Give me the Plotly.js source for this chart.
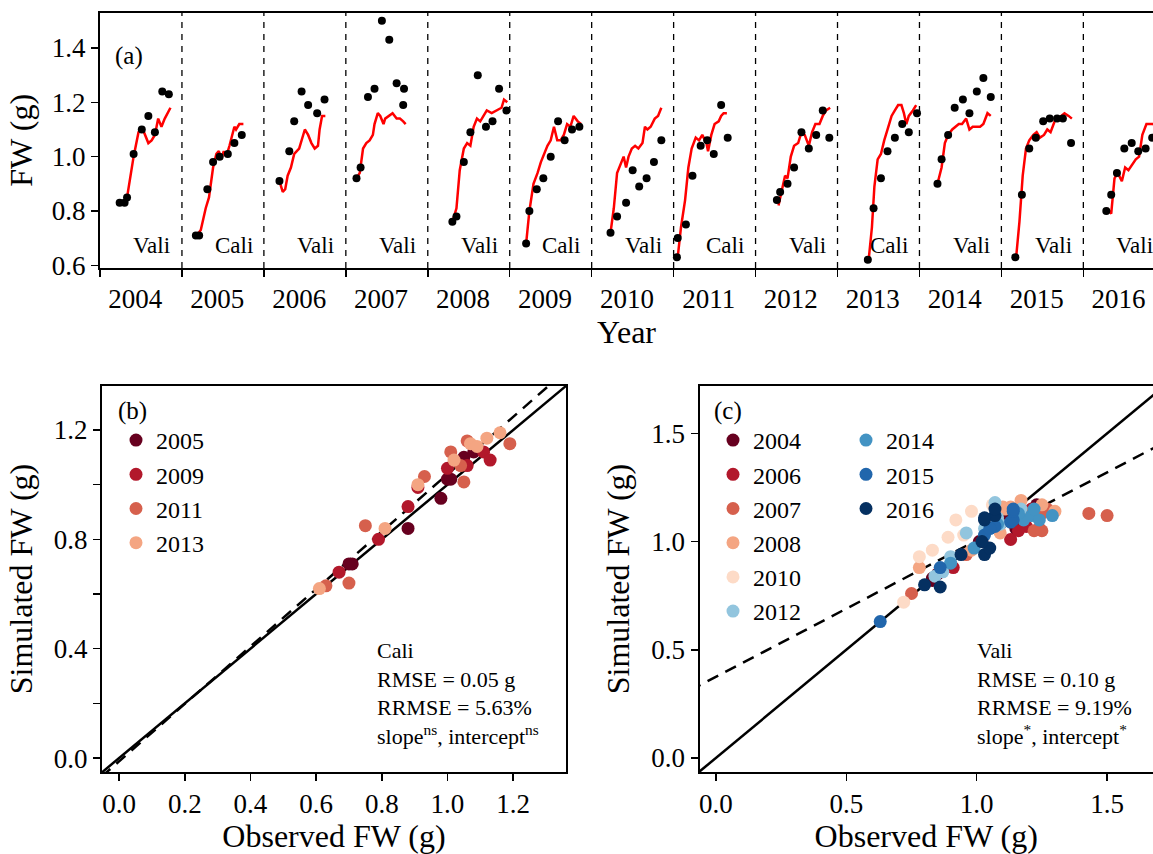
<!DOCTYPE html>
<html>
<head>
<meta charset="utf-8">
<script src="https://cdn.plot.ly/plotly-3.0.1.min.js"></script>
<style>html,body{margin:0;padding:0;background:#fff}#chart{width:1153px;height:854px}</style>
</head>
<body>
<div id="chart"></div>
<script>
'use strict';

/* ---------- Panel (a): seasons, observed dots and simulated lines ---------- */
var years = [2004, 2005, 2006, 2007, 2008, 2009, 2010, 2011, 2012, 2013, 2014, 2015, 2016];
var sets  = ['Vali', 'Cali', 'Vali', 'Vali', 'Vali', 'Cali', 'Vali', 'Cali', 'Vali', 'Cali', 'Vali', 'Vali', 'Vali'];

// observed: day of season (0-100) and FW
var obsDay = [
  [24, 30, 33, 41, 51, 59, 67, 76, 84],
  [17, 21, 31, 38, 46, 56, 64, 73],
  [19, 31, 37, 46, 54, 65, 74],
  [13, 18, 27, 35, 44, 53, 62, 71, 70],
  [30, 35, 44, 52, 61, 71, 79, 87, 96],
  [20, 24, 33, 41, 50, 59, 67, 76, 85],
  [23, 31, 42, 50, 58, 67, 76, 85],
  [4, 5, 15, 23, 33, 41, 49, 58, 66],
  [26, 30, 39, 47, 56, 65, 74, 82, 90],
  [37, 44, 53, 61, 70, 79, 87, 97],
  [22, 27, 35, 43, 53, 61, 70, 78, 87],
  [17, 25, 34, 42, 51, 59, 68, 75, 85],
  [28, 34, 41, 50, 59, 67, 76, 84, 96]
];
var obsFW = [
  [0.83, 0.83, 0.85, 1.01, 1.10, 1.15, 1.09, 1.24, 1.23],
  [0.71, 0.71, 0.88, 0.98, 1.00, 1.01, 1.05, 1.08],
  [0.91, 1.02, 1.13, 1.24, 1.19, 1.16, 1.21],
  [0.92, 0.96, 1.22, 1.25, 1.50, 1.43, 1.27, 1.25, 1.19],
  [0.76, 0.78, 0.98, 1.09, 1.30, 1.11, 1.13, 1.25, 1.17],
  [0.68, 0.80, 0.88, 0.92, 1.00, 1.13, 1.06, 1.10, 1.11],
  [0.72, 0.78, 0.83, 0.95, 0.89, 0.92, 0.98, 1.06],
  [0.63, 0.70, 0.75, 0.93, 1.04, 1.06, 1.01, 1.19, 1.07],
  [0.84, 0.87, 0.90, 0.96, 1.09, 1.03, 1.08, 1.17, 1.07],
  [0.62, 0.81, 0.92, 1.02, 1.07, 1.12, 1.09, 1.16],
  [0.90, 0.99, 1.08, 1.18, 1.21, 1.16, 1.24, 1.29, 1.22],
  [0.63, 0.86, 1.03, 1.07, 1.13, 1.14, 1.14, 1.14, 1.05],
  [0.80, 0.86, 0.94, 1.03, 1.05, 1.02, 1.03, 1.07, 1.07]
];

// simulated: day of season and FW
var simDay = [
  [30, 33, 41, 47, 51, 55, 59, 63, 67, 71, 75, 79, 83, 86],
  [18, 23, 29, 33, 38, 42, 45, 48, 51, 54, 58, 61, 64, 66, 70, 75],
  [19, 23, 26, 29, 33, 37, 43, 46, 50, 54, 58, 62, 66, 68, 71, 75],
  [13, 17, 21, 25, 29, 33, 35, 39, 42, 46, 48, 53, 57, 62, 66, 70, 73],
  [30, 35, 39, 44, 48, 52, 56, 60, 64, 68, 72, 78, 84, 90, 93, 97],
  [20, 24, 29, 34, 38, 42, 46, 50, 54, 58, 62, 66, 70, 74, 78, 83, 87],
  [23, 27, 31, 36, 39, 42, 45, 49, 53, 57, 62, 65, 68, 72, 77, 81, 85],
  [5, 9, 14, 18, 22, 27, 31, 35, 40, 42, 46, 50, 55, 58, 61, 65],
  [28, 32, 36, 39, 43, 47, 52, 56, 60, 65, 69, 73, 78, 82, 86, 91],
  [38, 42, 45, 49, 53, 57, 62, 66, 70, 74, 78, 81, 84, 87, 92, 96],
  [22, 27, 31, 35, 40, 44, 48, 52, 57, 61, 65, 70, 74, 78, 83, 87],
  [18, 22, 26, 30, 34, 39, 43, 47, 52, 56, 60, 65, 69, 73, 77, 82, 86],
  [29, 34, 38, 42, 47, 51, 55, 60, 64, 68, 72, 77, 81, 85, 92, 100]
];
var simFW = [
  [0.85, 0.85, 1.00, 1.09, 1.11, 1.08, 1.05, 1.06, 1.08, 1.14, 1.11, 1.14, 1.16, 1.18],
  [0.71, 0.73, 0.81, 0.85, 0.96, 1.01, 1.02, 0.99, 1.02, 1.00, 1.04, 1.08, 1.11, 1.10, 1.12, 1.12],
  [0.91, 0.87, 0.88, 0.93, 0.96, 1.01, 1.03, 1.06, 1.10, 1.08, 1.05, 1.03, 1.04, 1.10, 1.15, 1.15],
  [0.92, 0.94, 1.03, 1.05, 1.06, 1.08, 1.12, 1.16, 1.15, 1.12, 1.14, 1.15, 1.16, 1.14, 1.14, 1.13, 1.12],
  [0.76, 0.81, 0.95, 1.03, 1.05, 1.04, 1.11, 1.14, 1.13, 1.15, 1.17, 1.16, 1.17, 1.18, 1.21, 1.20],
  [0.68, 0.80, 0.90, 0.94, 0.98, 1.01, 1.04, 1.06, 1.11, 1.06, 1.06, 1.08, 1.12, 1.11, 1.15, 1.13, 1.12],
  [0.72, 0.81, 0.94, 0.98, 1.00, 0.96, 1.00, 1.03, 1.04, 1.03, 1.05, 1.11, 1.10, 1.11, 1.14, 1.15, 1.18],
  [0.63, 0.74, 0.84, 0.96, 1.03, 1.07, 1.06, 1.08, 1.05, 1.02, 1.08, 1.12, 1.13, 1.15, 1.16, 1.16],
  [0.82, 0.88, 0.93, 0.92, 1.00, 1.04, 1.05, 1.09, 1.08, 1.04, 1.09, 1.12, 1.12, 1.15, 1.17, 1.18],
  [0.62, 0.74, 0.89, 0.99, 1.01, 1.06, 1.11, 1.15, 1.17, 1.19, 1.19, 1.16, 1.12, 1.15, 1.17, 1.19],
  [0.90, 0.96, 1.05, 1.08, 1.10, 1.11, 1.12, 1.12, 1.14, 1.10, 1.11, 1.11, 1.11, 1.12, 1.16, 1.15],
  [0.63, 0.76, 0.93, 1.03, 1.06, 1.08, 1.09, 1.07, 1.08, 1.10, 1.09, 1.13, 1.14, 1.15, 1.16, 1.15, 1.14],
  [0.81, 0.79, 0.92, 0.94, 0.91, 0.96, 0.95, 0.97, 0.99, 1.00, 1.08, 1.12, 1.12, 1.12, 1.11, 1.12]
];

/* ---------- Panels (b) and (c): observed vs simulated ---------- */
var caliYears = [2005, 2009, 2011, 2013];
var caliObs = [
  [0.70, 0.71, 0.88, 0.98, 1.00, 1.01, 1.05, 1.08],
  [0.67, 0.79, 0.88, 0.91, 1.00, 1.06, 1.11, 1.13],
  [0.63, 0.70, 0.75, 0.93, 1.01, 1.04, 1.05, 1.06, 1.19],
  [0.61, 0.81, 0.91, 1.02, 1.07, 1.09, 1.12, 1.16]
];
var caliSim = [
  [0.71, 0.71, 0.84, 0.95, 1.02, 1.02, 1.10, 1.12],
  [0.68, 0.80, 0.92, 0.99, 1.06, 1.07, 1.12, 1.09],
  [0.63, 0.64, 0.85, 1.03, 1.12, 1.07, 1.01, 1.16, 1.15],
  [0.62, 0.84, 1.00, 1.09, 1.15, 1.14, 1.17, 1.19]
];
var caliColors = ['#67001f', '#b2182b', '#d6604d', '#f4a582'];

var valiYears = [2004, 2006, 2007, 2008, 2010, 2012, 2014, 2015, 2016];
var valiObs = [
  [0.83, 0.83, 0.85, 1.01, 1.10, 1.15, 1.09, 1.24, 1.23],
  [0.91, 1.02, 1.13, 1.24, 1.19, 1.16, 1.21],
  [0.75, 0.96, 1.22, 1.25, 1.50, 1.43, 1.27, 1.25, 1.19],
  [0.78, 0.98, 1.09, 1.30, 1.11, 1.13, 1.25, 1.17, 1.10],
  [0.72, 0.78, 0.83, 0.95, 0.89, 0.92, 0.98, 1.06],
  [0.84, 0.87, 0.90, 0.96, 1.09, 1.03, 1.08, 1.17, 1.07],
  [0.90, 0.99, 1.08, 1.18, 1.21, 1.16, 1.24, 1.29, 1.22],
  [0.63, 0.86, 1.03, 1.07, 1.13, 1.14, 1.14, 1.14, 1.05],
  [0.80, 0.86, 0.94, 1.03, 1.05, 1.02, 1.03, 1.07, 1.07, 1.03]
];
var valiSim = [
  [0.83, 0.82, 0.85, 1.00, 1.10, 1.06, 1.08, 1.14, 1.17],
  [0.88, 1.00, 1.01, 1.06, 1.07, 1.05, 1.15],
  [0.76, 0.94, 1.05, 1.05, 1.12, 1.13, 1.15, 1.13, 1.13],
  [0.88, 0.96, 1.04, 1.14, 1.15, 1.16, 1.17, 1.19, 1.16],
  [0.72, 0.93, 0.96, 1.03, 1.02, 1.10, 1.14, 1.17],
  [0.84, 0.86, 0.93, 1.04, 1.08, 1.06, 1.11, 1.15, 1.18],
  [0.90, 0.97, 1.08, 1.10, 1.12, 1.13, 1.10, 1.12, 1.15],
  [0.63, 0.88, 1.03, 1.07, 1.09, 1.10, 1.14, 1.15, 1.06],
  [0.80, 0.79, 0.94, 0.94, 0.97, 1.00, 1.10, 1.12, 1.15, 1.11]
];
var valiColors = ['#67001f', '#b2182b', '#d6604d', '#f4a582', '#fddbc7', '#92c5de', '#4393c3', '#2166ac', '#053061'];

// fitted regression lines
var caliFit = { slope: 1.05, intercept: -0.012 };
var valiFit = { slope: 0.63, intercept: 0.375 };

var FONT = "'Liberation Serif', 'Times New Roman', serif";

/* ---------- Build traces ---------- */
var traces = [];

years.forEach(function (yr, i) {
  traces.push({
    x: simDay[i].map(function (d) { return i + d / 100; }), y: simFW[i],
    type: 'scatter', mode: 'lines', xaxis: 'x', yaxis: 'y', showlegend: false,
    line: { color: '#ff0000', width: 2.5 }, hoverinfo: 'skip'
  });
  traces.push({
    x: obsDay[i].map(function (d) { return i + d / 100; }), y: obsFW[i],
    type: 'scatter', mode: 'markers', xaxis: 'x', yaxis: 'y', showlegend: false,
    marker: { color: '#000', size: 8 }
  });
});

function fitLine(fit, lo, hi, xa, ya) {
  return {
    x: [lo, hi], y: [fit.intercept + fit.slope * lo, fit.intercept + fit.slope * hi],
    type: 'scatter', mode: 'lines', xaxis: xa, yaxis: ya, showlegend: false,
    line: { color: '#000', width: 2.5, dash: '12px,8px' }, hoverinfo: 'skip'
  };
}
function oneToOne(lo, hi, xa, ya) {
  return {
    x: [lo, hi], y: [lo, hi], type: 'scatter', mode: 'lines', xaxis: xa, yaxis: ya,
    showlegend: false, line: { color: '#000', width: 2.5 }, hoverinfo: 'skip'
  };
}

traces.push(oneToOne(-0.1, 1.5, 'x2', 'y2'));
traces.push(fitLine(caliFit, -0.1, 1.5, 'x2', 'y2'));
caliYears.forEach(function (yr, i) {
  traces.push({
    x: caliObs[i], y: caliSim[i], type: 'scatter', mode: 'markers', name: String(yr),
    xaxis: 'x2', yaxis: 'y2', legend: 'legend',
    marker: { color: caliColors[i], size: 13 }
  });
});

traces.push(oneToOne(-0.1, 1.8, 'x3', 'y3'));
traces.push(fitLine(valiFit, -0.1, 1.8, 'x3', 'y3'));
valiYears.forEach(function (yr, i) {
  traces.push({
    x: valiObs[i], y: valiSim[i], type: 'scatter', mode: 'markers', name: String(yr),
    xaxis: 'x3', yaxis: 'y3', legend: i < 6 ? 'legend2' : 'legend3',
    marker: { color: valiColors[i], size: 13 }
  });
});

/* ---------- Shapes / annotations ---------- */
var shapes = years.slice(1).map(function (_, i) {
  return { type: 'line', xref: 'x', yref: 'y domain', x0: i + 1, x1: i + 1, y0: 0, y1: 1,
           line: { color: '#000', width: 1.3, dash: '6px,6px' } };
});

var annotations = years.map(function (_, i) {
  return { xref: 'x', yref: 'y', x: i + 0.63, y: 0.672, text: sets[i], showarrow: false,
           font: { family: FONT, size: 23, color: '#000' } };
});
annotations.push(
  { xref: 'paper', yref: 'paper', x: 113 / 1153, y: 1 - 40 / 854, xanchor: 'left', text: '(a)',
    showarrow: false, font: { family: FONT, size: 25, color: '#000' } },
  { xref: 'paper', yref: 'paper', x: 116 / 1153, y: 1 - 411 / 854, xanchor: 'left', text: '(b)',
    showarrow: false, font: { family: FONT, size: 25, color: '#000' } },
  { xref: 'paper', yref: 'paper', x: 712 / 1153, y: 1 - 411 / 854, xanchor: 'left', text: '(c)',
    showarrow: false, font: { family: FONT, size: 25, color: '#000' } },
  { xref: 'paper', yref: 'paper', x: 375 / 1153, y: 1 - 636 / 854, xanchor: 'left', yanchor: 'top', align: 'left',
    text: 'Cali<br>RMSE = 0.05 g<br>RRMSE = 5.63%<br>slope<sup>ns</sup>, intercept<sup>ns</sup>',
    showarrow: false, font: { family: FONT, size: 22, color: '#000' } },
  { xref: 'paper', yref: 'paper', x: 975 / 1153, y: 1 - 636 / 854, xanchor: 'left', yanchor: 'top', align: 'left',
    text: 'Vali<br>RMSE = 0.10 g<br>RRMSE = 9.19%<br>slope<sup>*</sup>, intercept<sup>*</sup>',
    showarrow: false, font: { family: FONT, size: 22, color: '#000' } }
);

function axisBase(extra) {
  var a = {
    showgrid: false, zeroline: false, showline: true, linecolor: '#000', linewidth: 2,
    ticks: 'outside', ticklen: 7, tickwidth: 1.5, tickcolor: '#000',
    tickfont: { family: FONT, size: 27, color: '#000' }
  };
  for (var k in extra) a[k] = extra[k];
  return a;
}

var legendBase = function (x, y) {
  return { x: x, y: y, xanchor: 'left', yanchor: 'top', bgcolor: 'rgba(0,0,0,0)',
           font: { family: FONT, size: 24, color: '#000' }, tracegroupgap: 0, itemwidth: 30 };
};

var layout = {
  width: 1153, height: 854, paper_bgcolor: '#fff', plot_bgcolor: '#fff',
  margin: { l: 0, r: 0, t: 0, b: 0 }, font: { family: FONT, color: '#000' },
  shapes: shapes, annotations: annotations,
  xaxis: axisBase({
    domain: [100 / 1153, 1], anchor: 'y', range: [0, 12.85], mirror: true,
    tickvals: years.map(function (_, i) { return i + 0.43; }), ticktext: years.map(String),
    ticks: '', ticklabelstandoff: 6,
    minor: { ticks: 'outside', tick0: 0, dtick: 1, ticklen: 7, tickwidth: 1.5, tickcolor: '#000', showgrid: false },
    title: { text: 'Year', font: { family: FONT, size: 32 }, standoff: 2 }
  }),
  yaxis: axisBase({
    domain: [1 - 268 / 854, 1 - 12.7 / 854], anchor: 'x', range: [0.59, 1.53], mirror: true,
    tickvals: [0.6, 0.8, 1.0, 1.2, 1.4], ticktext: ['0.6', '0.8', '1.0', '1.2', '1.4'],
    title: { text: 'FW (g)', font: { family: FONT, size: 32 }, standoff: 10 }
  }),
  xaxis2: axisBase({
    domain: [102 / 1153, 566 / 1153], anchor: 'y2', range: [-0.052, 1.361], mirror: true,
    tickvals: [0, 0.2, 0.4, 0.6, 0.8, 1.0, 1.2], tickformat: '.1f',
    title: { text: 'Observed FW (g)', font: { family: FONT, size: 32 }, standoff: 6 }
  }),
  yaxis2: axisBase({
    domain: [1 - 772 / 854, 1 - 386 / 854], anchor: 'x2', range: [-0.051, 1.361], mirror: true,
    tickvals: [0, 0.2, 0.4, 0.6, 0.8, 1.0, 1.2], ticktext: ['0.0', '', '0.4', '', '0.8', '', '1.2'],
    title: { text: 'Simulated FW (g)', font: { family: FONT, size: 32 }, standoff: 12 }
  }),
  xaxis3: axisBase({
    domain: [699.5 / 1153, 1], anchor: 'y3', range: [-0.063, 1.676], mirror: true,
    tickvals: [0, 0.5, 1.0, 1.5], tickformat: '.1f',
    title: { text: 'Observed FW (g)', font: { family: FONT, size: 32 }, standoff: 6 }
  }),
  yaxis3: axisBase({
    domain: [1 - 772 / 854, 1 - 386 / 854], anchor: 'x3', range: [-0.065, 1.719], mirror: false,
    tickvals: [0, 0.5, 1.0, 1.5], tickformat: '.1f',
    title: { text: 'Simulated FW (g)', font: { family: FONT, size: 32 }, standoff: 12 }
  }),
  legend: legendBase(116 / 1153, 1 - 418 / 854),
  legend2: legendBase(713 / 1153, 1 - 418 / 854),
  legend3: legendBase(846 / 1153, 1 - 418 / 854),
  showlegend: true
};

Plotly.newPlot('chart', traces, layout, { displayModeBar: false, staticPlot: true });
</script>
</body>
</html>
